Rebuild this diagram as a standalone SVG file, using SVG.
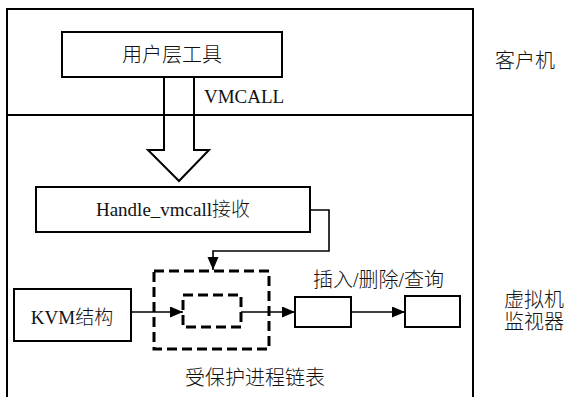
<svg xmlns="http://www.w3.org/2000/svg" width="565" height="397" viewBox="0 0 565 397">
<defs>
<style>
.box{fill:none;stroke:#000;stroke-width:2}
.dash{fill:none;stroke:#000;stroke-width:3;stroke-dasharray:10,5}
.ln{fill:none;stroke:#000;stroke-width:1.6}
.t{font-family:"Liberation Serif","Noto Sans CJK SC",serif;font-size:20px;font-weight:300;fill:#111}
.tl{font-family:"Liberation Serif","Noto Sans CJK SC",serif;font-size:19px;font-weight:300;fill:#111}
</style>
<marker id="ah" markerUnits="userSpaceOnUse" markerWidth="14" markerHeight="12" refX="13" refY="5.5" orient="auto">
<path d="M0,0 L13,5.5 L0,11 z" fill="#000"/>
</marker>
</defs>
<rect width="565" height="397" fill="#fff"/>
<g id="frame">
<path class="box" d="M7,400 V9 H473 V400"/>
<line class="box" x1="7" y1="115" x2="473" y2="115"/>
<text class="t" x="495" y="68">客户机</text>
<text class="t" x="504" y="307">虚拟机</text>
<text class="t" x="504" y="329">监视器</text>
</g>
<g id="user-tool">
<rect class="box" x="62" y="32" width="220" height="45"/>
<text class="t" x="172" y="62" text-anchor="middle">用户层工具</text>
</g>
<g id="vmcall">
<polygon class="box" points="164,77 194,77 194,150 209,150 179,181 148,150 164,150 164,77"/>
<text class="tl" x="204" y="103">VMCALL</text>
</g>
<g id="handle">
<rect class="box" x="36" y="187" width="274" height="45"/>
<text class="tl" x="173" y="216" text-anchor="middle">Handle_vmcall接收</text>
</g>
<g id="kvm">
<rect class="box" x="14" y="289" width="117" height="52"/>
<text class="tl" x="72" y="324" text-anchor="middle">KVM结构</text>
</g>
<g id="protected-list">
<rect class="dash" x="154" y="271" width="115" height="78"/>
<rect class="dash" x="183" y="295" width="58" height="32"/>
<text class="t" x="185" y="385">受保护进程链表</text>
</g>
<g id="node1">
<rect class="box" x="295" y="297" width="56" height="30"/>
</g>
<g id="node2">
<rect class="box" x="405" y="296" width="55" height="31"/>
</g>
<text class="t" x="313" y="287">插入/删除/查询</text>
<g id="connectors">
<path class="ln" d="M310,210 H329 V251 H213 V270" marker-end="url(#ah)"/>
<line class="ln" x1="131" y1="312" x2="183" y2="312" marker-end="url(#ah)"/>
<line class="ln" x1="241" y1="312" x2="295" y2="312" marker-end="url(#ah)"/>
<line class="ln" x1="351" y1="312" x2="405" y2="312" marker-end="url(#ah)"/>
</g>
</svg>
